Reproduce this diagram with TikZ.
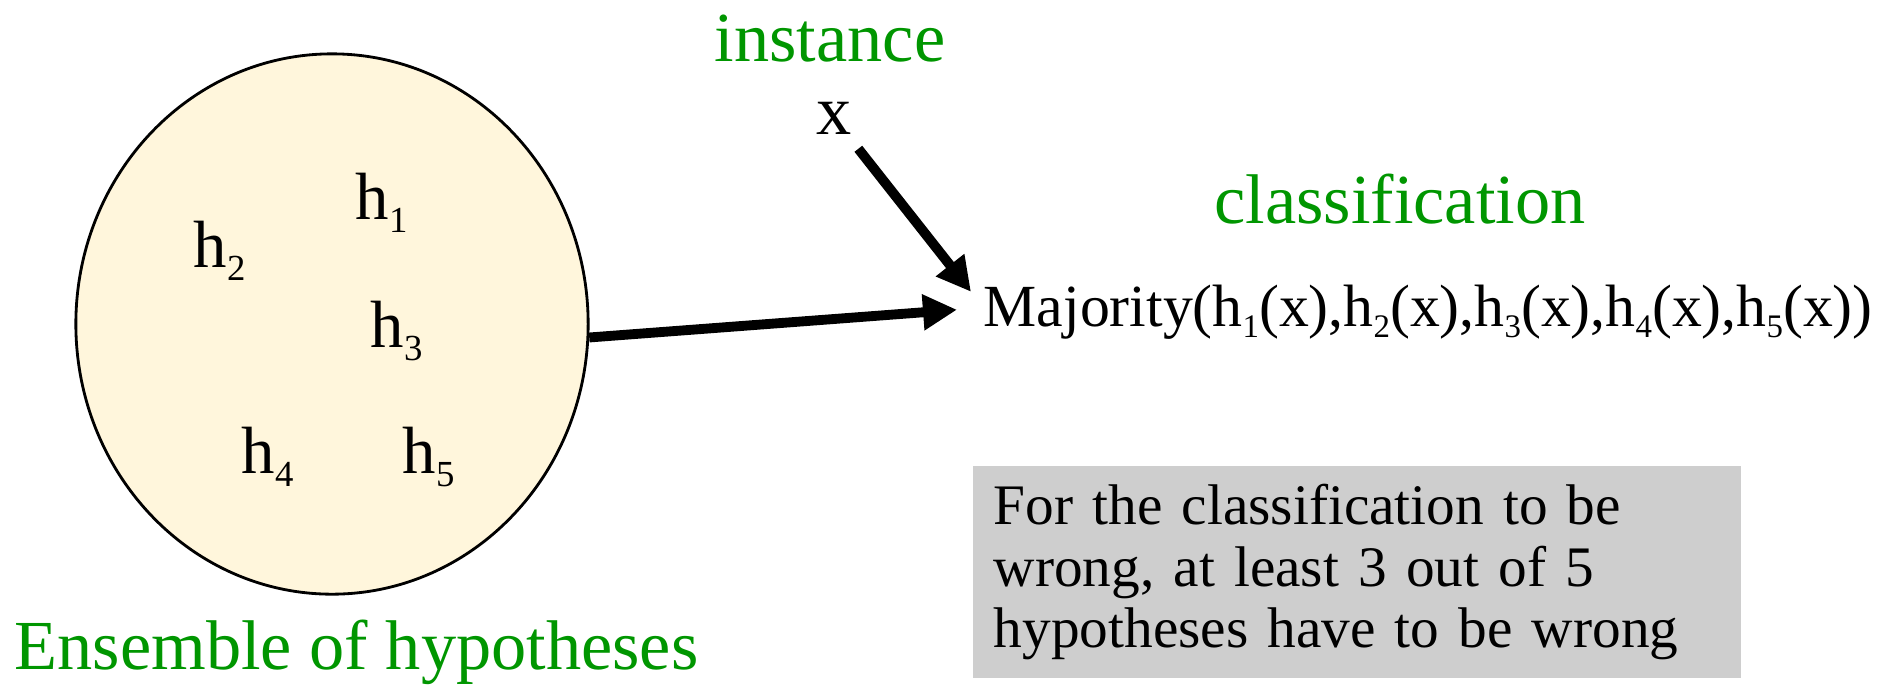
\documentclass[tikz,border=0pt]{standalone}
\usepackage{fontspec}
\setmainfont{LiberationSerif}[Extension=.ttf, UprightFont=*-Regular,
  BoldFont=*-Bold, ItalicFont=*-Italic]
\usepackage{graphicx}
\usetikzlibrary{arrows.meta,shapes.geometric,positioning}
\definecolor{labelgreen}{RGB}{0,150,0}
\definecolor{setfill}{RGB}{255,246,220}
\definecolor{notegray}{RGB}{206,206,206}
\newcommand{\hs}[1]{h\raisebox{-0.2em}{\scalebox{0.55}{#1}}}

\begin{document}
\begin{tikzpicture}[
    x=0.01cm, y=-0.01cm,
    hypset/.style={ellipse, draw=black, line width=0.8pt, fill=setfill,
                   minimum width=5.12cm, minimum height=5.4cm, inner sep=0pt},
    hyp/.style={font=\fontsize{19}{22}\selectfont, anchor=base west, inner sep=0pt},
    glabel/.style={text=labelgreen, font=\fontsize{20}{24}\selectfont, inner sep=0pt},
    note/.style={fill=notegray, minimum width=7.68cm, minimum height=2.12cm,
                 text width=7.26cm, align=left, inner sep=0pt,
                 font=\fontsize{16.3}{17.4}\selectfont},
    fl/.style={-{Triangle[length=3.4mm,width=3.4mm]}, line width=2.8pt}
  ]
  \useasboundingbox (0,0) rectangle (1883,684);
  % ensemble
  \node[hypset] (ens) at (332,324) {};
  \node[hyp] (h1) at (355,219) {\hs{1}};
  \node[hyp] (h2) at (193,267) {\hs{2}};
  \node[hyp] (h3) at (370,347) {\hs{3}};
  \node[hyp] (h4) at (241,473) {\hs{4}};
  \node[hyp] (h5) at (402,473) {\hs{5}};
  \node[glabel, anchor=base west] (enslab) at (14,669) {Ensemble of hypotheses};
  % instance and classification
  \node[glabel, anchor=base] (inst) at (830,61) {instance};
  \node[font=\fontsize{20}{24}\selectfont, anchor=base, inner sep=4pt] (xv) at (834,134) {x};
  \node[glabel, anchor=base] (cls) at (1400,223) {classification};
  \node[font=\fontsize{17}{20}\selectfont, anchor=base west, inner sep=0pt] (maj) at (983,326)
    {Majority(\hs{1}(x),\hs{2}(x),\hs{3}(x),\hs{4}(x),\hs{5}(x))};
  \node[note] (note) at (1357,572)
    {For the classification to be\\wrong, at least 3 out of 5\\hypotheses have to be wrong};
  \draw[fl] (ens.-3) -- ([shift={(-26,-2)}]maj.west);
  \draw[fl] (xv) -- ([shift={(-12,8)}]maj.north west);
\end{tikzpicture}
\end{document}
